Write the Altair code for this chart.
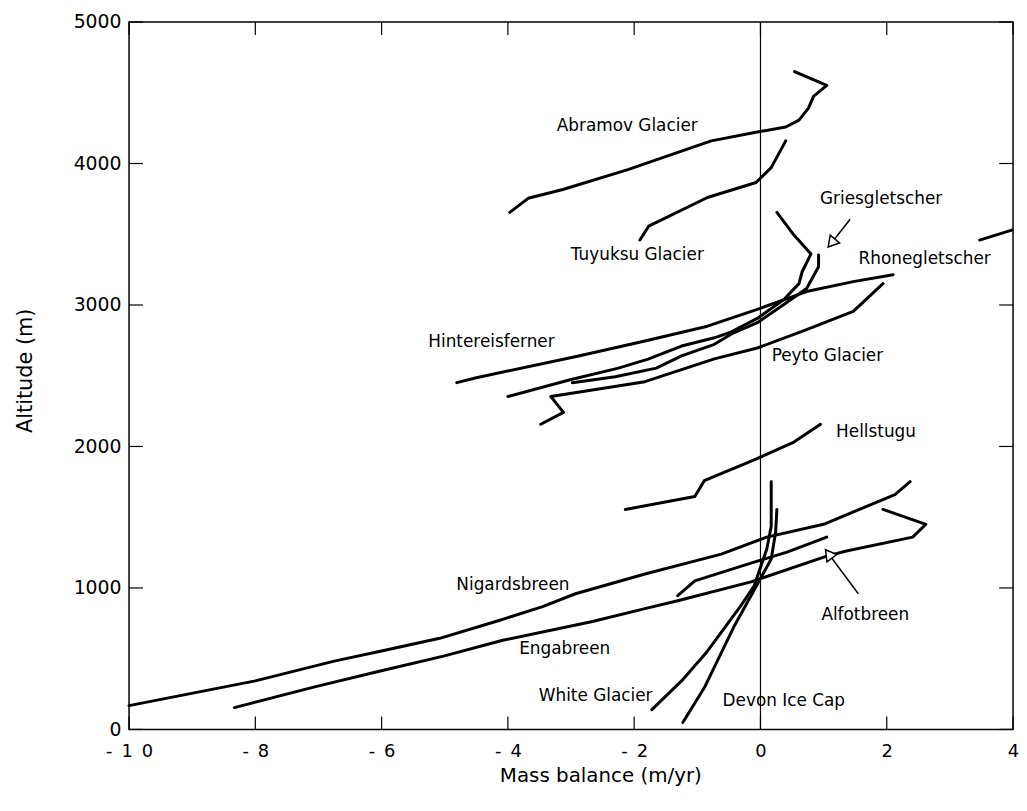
import altair as alt
import pandas as pd

# ---- glacier mass-balance profiles (x = mass balance m/yr, y = altitude m) ----
abramov_mb = [-3.97, -3.68, -3.13, -2.10, -0.78, -0.05, 0.40, 0.61, 0.76, 0.84, 1.05, 0.54]
abramov_alt = [3655, 3754, 3816, 3957, 4160, 4223, 4258, 4307, 4391, 4475, 4552, 4650]

tuyuksu_mb = [-1.91, -1.77, -0.84, -0.07, 0.17, 0.40]
tuyuksu_alt = [3459, 3557, 3760, 3866, 3971, 4160]

hintereis_mb = [-4.81, -4.50, -2.88, -1.83, -0.84, -0.05, 0.73, 1.47, 2.10]
hintereis_alt = [2451, 2486, 2640, 2745, 2850, 2969, 3095, 3165, 3214]

rhone_mb = [-4.00, -3.03, -2.25, -1.78, -1.25, -0.73, -0.46, -0.05, 0.37, 0.61, 0.66, 0.80, 0.53, 0.26]
rhone_alt = [2353, 2470, 2554, 2617, 2710, 2768, 2810, 2905, 3039, 3151, 3235, 3361, 3494, 3655]

gries_mb = [-2.98, -2.30, -1.65, -1.25, -0.73, -0.46, -0.05, 0.37, 0.73, 0.92, 0.92]
gries_alt = [2451, 2493, 2554, 2640, 2722, 2795, 2875, 3004, 3116, 3270, 3354]

rhone_upper_mb = [3.47, 3.98]
rhone_upper_alt = [3459, 3529]

peyto_mb = [-3.48, -3.12, -3.32, -1.83, -0.73, -0.05, 0.70, 1.47, 1.94]
peyto_alt = [2157, 2241, 2353, 2458, 2619, 2696, 2820, 2955, 3151]

hellstugu_mb = [-2.14, -1.04, -0.89, -0.10, 0.53, 0.95]
hellstugu_alt = [1555, 1646, 1758, 1905, 2031, 2157]

nigard_mb = [-10.0, -8.0, -6.75, -6.02, -5.08, -4.14, -3.45, -2.93, -1.83, -0.62, 0.10, 1.00, 2.13, 2.37]
nigard_alt = [168, 343, 483, 553, 644, 770, 868, 959, 1099, 1239, 1359, 1450, 1660, 1751]

enga_mb = [-8.33, -7.06, -6.02, -5.02, -4.08, -2.66, -1.83, -1.31, -0.15, 1.05, 1.36, 2.41, 2.62, 1.94]
enga_alt = [154, 301, 413, 518, 630, 763, 854, 910, 1043, 1225, 1261, 1359, 1450, 1555]

alfot_mb = [-1.31, -1.04, -0.10, 0.42, 1.05]
alfot_alt = [945, 1050, 1183, 1253, 1359]

white_mb = [-1.72, -1.25, -0.84, -0.31, -0.10, 0.10, 0.17, 0.17]
white_alt = [140, 343, 553, 875, 1015, 1275, 1436, 1751]

devon_mb = [-1.23, -0.89, -0.41, -0.15, 0.17, 0.24, 0.26]
devon_alt = [49, 294, 735, 945, 1204, 1394, 1555]

# ---- labels ----
label_text = ["Abramov Glacier", "Tuyuksu Glacier", "Griesgletscher", "Rhonegletscher",
              "Hintereisferner", "Peyto Glacier", "Hellstugu", "Nigardsbreen",
              "Engabreen", "White Glacier", "Devon Ice Cap", "Alfotbreen"]
label_mb = [-2.11, -1.95, 1.91, 2.60, -4.26, 1.06, 1.83, -3.92, -3.10, -2.61, 0.37, 1.66]
label_alt = [4265, 3354, 3747, 3326, 2738, 2640, 2101, 1022, 567, 238, 203, 812]

# ---- arrows (tail -> head) ----
arrow_tail_mb = [1.42, 1.55]
arrow_tail_alt = [3606, 959]
arrow_head_mb = [1.125, 1.08]
arrow_head_alt = [3438, 1240]
arrow_angle = [220, 323]

# ---- axis ticks ----
x_ticks = [-10, -8, -6, -4, -2, 0, 2, 4]
y_ticks = [0, 1000, 2000, 3000, 4000, 5000]

series = {
    "Abramov Glacier": (abramov_mb, abramov_alt),
    "Tuyuksu Glacier": (tuyuksu_mb, tuyuksu_alt),
    "Hintereisferner": (hintereis_mb, hintereis_alt),
    "Rhonegletscher": (rhone_mb, rhone_alt),
    "Griesgletscher": (gries_mb, gries_alt),
    "Rhonegletscher (upper)": (rhone_upper_mb, rhone_upper_alt),
    "Peyto Glacier": (peyto_mb, peyto_alt),
    "Hellstugu": (hellstugu_mb, hellstugu_alt),
    "Nigardsbreen": (nigard_mb, nigard_alt),
    "Engabreen": (enga_mb, enga_alt),
    "Alfotbreen": (alfot_mb, alfot_alt),
    "White Glacier": (white_mb, white_alt),
    "Devon Ice Cap": (devon_mb, devon_alt),
}

rows = []
for name, (xs, ys) in series.items():
    for i, (xv, yv) in enumerate(zip(xs, ys)):
        rows.append({"glacier": name, "i": i, "mb": xv, "alt": yv})
lines_df = pd.DataFrame(rows)

labels_df = pd.DataFrame({"text": label_text, "mb": label_mb, "alt": label_alt})
arrows_df = pd.DataFrame({"tx": arrow_tail_mb, "ty": arrow_tail_alt,
                          "hx": arrow_head_mb, "hy": arrow_head_alt, "ang": arrow_angle})
xt_df = pd.DataFrame({"v": x_ticks})
yt_df = pd.DataFrame({"v": y_ticks})
zero_df = pd.DataFrame({"v": [0]})

W, H = 891, 713
FONT = "DejaVu Sans"
xscale = alt.Scale(domain=[-10, 4], nice=False, zero=False)
yscale = alt.Scale(domain=[0, 5000], nice=False)

x_axis = alt.Axis(values=x_ticks, ticks=False, domain=False, grid=False,
                  labelExpr="join(split(toString(datum.value), ''), '\u2002')",
                  labelFont=FONT, labelFontSize=18, labelColor="black",
                  labelPadding=13, labelFlush=False, labelOverlap=False,
                  title="Mass balance (m/yr)", titleFont=FONT, titleFontSize=20,
                  titleFontWeight="normal", titleColor="black",
                  titleX=475, titleY=52, titleBaseline="alphabetic")
y_axis = alt.Axis(values=y_ticks, ticks=False, domain=False, grid=False,
                  format="d",
                  labelFont=FONT, labelFontSize=19, labelColor="black",
                  labelPadding=8, labelFlush=False, labelOverlap=False,
                  title="Altitude (m)", titleFont=FONT, titleFontSize=21,
                  titleFontWeight="normal", titleColor="black",
                  titleX=-98, titleY=351, titleBaseline="alphabetic")

lines = alt.Chart(lines_df).mark_line(
    color="black", strokeWidth=3, strokeCap="round", strokeJoin="round"
).encode(
    x=alt.X("mb:Q", scale=xscale, axis=x_axis),
    y=alt.Y("alt:Q", scale=yscale, axis=y_axis),
    detail="glacier:N",
    order="i:Q",
)

zero_line = alt.Chart(zero_df).mark_rule(color="black", strokeWidth=1.2).encode(
    x=alt.X("v:Q", scale=xscale)
)

tick_len = 13
xt_bottom = alt.Chart(xt_df).mark_rule(color="black", strokeWidth=1.2).encode(
    x=alt.X("v:Q", scale=xscale), y=alt.value(H), y2=alt.value(H - tick_len))
xt_top = alt.Chart(xt_df).mark_rule(color="black", strokeWidth=1.2).encode(
    x=alt.X("v:Q", scale=xscale), y=alt.value(0), y2=alt.value(tick_len))
yt_left = alt.Chart(yt_df).mark_rule(color="black", strokeWidth=1.2).encode(
    y=alt.Y("v:Q", scale=yscale), x=alt.value(0), x2=alt.value(tick_len + 1))
yt_right = alt.Chart(yt_df).mark_rule(color="black", strokeWidth=1.2).encode(
    y=alt.Y("v:Q", scale=yscale), x=alt.value(W), x2=alt.value(W - tick_len - 1))

texts = alt.Chart(labels_df).mark_text(
    font=FONT, fontSize=17, color="black", align="center", baseline="middle"
).encode(
    x=alt.X("mb:Q", scale=xscale),
    y=alt.Y("alt:Q", scale=yscale),
    text="text:N",
)

shafts = alt.Chart(arrows_df).mark_rule(color="black", strokeWidth=1.5).encode(
    x=alt.X("tx:Q", scale=xscale), y=alt.Y("ty:Q", scale=yscale),
    x2="hx:Q", y2="hy:Q",
)
heads = alt.Chart(arrows_df).mark_point(
    shape="triangle-up", filled=True, fill="white", stroke="black",
    strokeWidth=1.5, size=150, opacity=1
).encode(
    x=alt.X("hx:Q", scale=xscale), y=alt.Y("hy:Q", scale=yscale),
    angle=alt.Angle("ang:Q", scale=None),
)

chart = alt.layer(
    lines, zero_line, xt_bottom, xt_top, yt_left, yt_right, texts, shafts, heads
).properties(
    width=W, height=H,
    padding={"left": 122, "top": 11, "right": 6, "bottom": 70},
    autosize=alt.AutoSizeParams(type="none"),
    background="white",
).configure_view(
    stroke="black", strokeWidth=1.5
)

chart.save("out.html", embed_options={"renderer": "svg", "actions": False})
